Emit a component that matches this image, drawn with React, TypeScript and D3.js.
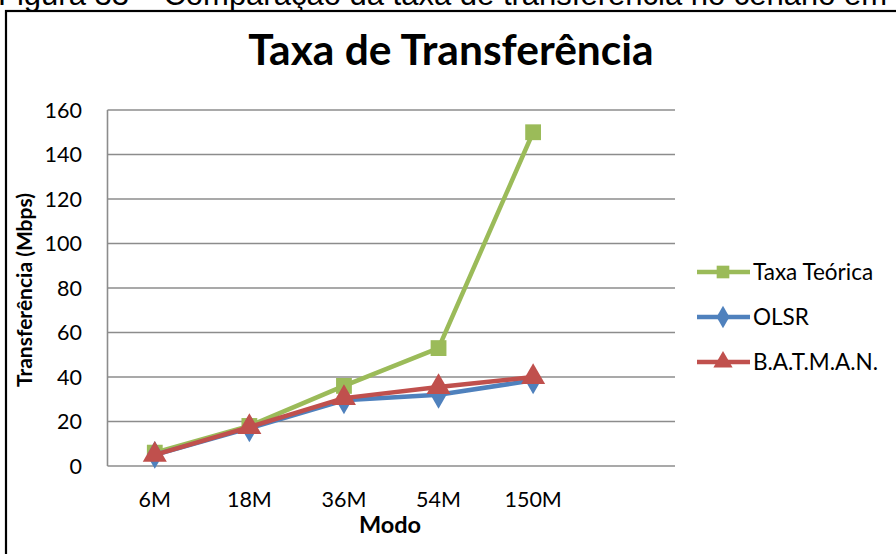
import React, { useEffect, useRef } from 'react';
import * as d3 from 'd3';

// Chart data
const categories = ['6M', '18M', '36M', '54M', '150M'];
const taxaTeorica = [6, 18, 36, 53, 150];
const olsr = [5, 17, 29.5, 32, 38.5];
const batman = [5, 17.5, 30.5, 35.5, 40];
const yTicks = [0, 20, 40, 60, 80, 100, 120, 140, 160];

const series = [
  { name: 'Taxa Teórica', values: taxaTeorica, color: '#9BBB59', marker: 'square' },
  { name: 'OLSR', values: olsr, color: '#4F81BD', marker: 'diamond' },
  { name: 'B.A.T.M.A.N.', values: batman, color: '#C0504D', marker: 'triangle' },
];

const W = 896;
const H = 554;
const plot = { left: 107.5, right: 675, top: 110, bottom: 466 };
const font = 'Lato, "Open Sans", sans-serif';

function App() {
  const ref = useRef<SVGSVGElement>(null);

  useEffect(() => {
    const svg = d3.select(ref.current).html('');

    svg.append('rect').attr('width', W).attr('height', H).attr('fill', '#fff');

    // caption from the page, cut off at the top
    svg.append('text')
      .attr('x', -2)
      .attr('y', 5)
      .attr('font-family', '"Liberation Sans", Arial, sans-serif')
      .attr('font-size', 31)
      .text('Figura 33 – Comparação da taxa de transferência no cenário em');

    // frame
    svg.append('rect')
      .attr('x', 6).attr('y', 11)
      .attr('width', W + 20).attr('height', H + 20)
      .attr('fill', 'none').attr('stroke', '#000').attr('stroke-width', 2.2);

    // the category axis has one empty slot at the end
    const x = d3.scaleBand<string>()
      .domain([...categories, ''])
      .range([plot.left, plot.right]);
    const y = d3.scaleLinear().domain([0, 160]).range([plot.bottom, plot.top]);
    const cx = (c: string) => (x(c) as number) + x.bandwidth() / 2;

    // gridlines
    svg.append('g')
      .selectAll('line')
      .data(yTicks)
      .join('line')
      .attr('x1', plot.left).attr('x2', plot.right)
      .attr('y1', (d) => y(d)).attr('y2', (d) => y(d))
      .attr('stroke', '#8c8c8c').attr('stroke-width', 1.6);

    svg.append('line')
      .attr('x1', plot.left).attr('x2', plot.left)
      .attr('y1', plot.top).attr('y2', plot.bottom)
      .attr('stroke', '#8c8c8c').attr('stroke-width', 1.6);

    // y tick labels
    svg.append('g')
      .selectAll('text')
      .data(yTicks)
      .join('text')
      .attr('x', 82)
      .attr('y', (d) => y(d) + 7.5)
      .attr('text-anchor', 'end')
      .attr('font-family', font)
      .attr('font-size', 21.5)
      .text((d) => d);

    // x tick labels
    svg.append('g')
      .selectAll('text')
      .data(categories)
      .join('text')
      .attr('x', (d) => cx(d))
      .attr('y', 507)
      .attr('text-anchor', 'middle')
      .attr('font-family', font)
      .attr('font-size', 21.5)
      .text((d) => d);

    // title and axis titles
    svg.append('text')
      .attr('x', 451).attr('y', 65)
      .attr('text-anchor', 'middle')
      .attr('font-family', font).attr('font-weight', 'bold')
      .attr('font-size', 42.5)
      .text('Taxa de Transferência');

    svg.append('text')
      .attr('x', 390).attr('y', 533)
      .attr('text-anchor', 'middle')
      .attr('font-family', font).attr('font-weight', 'bold')
      .attr('font-size', 23.5)
      .text('Modo');

    svg.append('text')
      .attr('transform', 'translate(32,290) rotate(-90)')
      .attr('text-anchor', 'middle')
      .attr('font-family', font).attr('font-weight', 'bold')
      .attr('font-size', 21)
      .text('Transferência (Mbps)');

    const symbolFor = (m: string, size: number) => {
      if (m === 'square') return d3.symbol(d3.symbolSquare, size)();
      if (m === 'diamond') return d3.symbol(d3.symbolDiamond, size * 0.9)();
      return d3.symbol(d3.symbolTriangle, size)();
    };

    const line = d3.line<number>()
      .x((_, i) => cx(categories[i]))
      .y((d) => y(d));

    series.forEach((s) => {
      const g = svg.append('g');
      g.append('path')
        .attr('d', line(s.values))
        .attr('fill', 'none')
        .attr('stroke', s.color)
        .attr('stroke-width', 4.5)
        .attr('stroke-linejoin', 'round');
      g.selectAll('path.m')
        .data(s.values)
        .join('path')
        .attr('class', 'm')
        .attr('transform', (d, i) => `translate(${cx(categories[i])},${y(d)})`)
        .attr('d', symbolFor(s.marker, 250))
        .attr('fill', s.color);
    });

    // legend
    const leg = svg.append('g');
    const legY = [272, 317, 362];
    series.forEach((s, i) => {
      const ly = legY[i];
      leg.append('line')
        .attr('x1', 697).attr('x2', 750)
        .attr('y1', ly).attr('y2', ly)
        .attr('stroke', s.color).attr('stroke-width', 4.5);
      leg.append('path')
        .attr('transform', `translate(723,${ly})`)
        .attr('d', symbolFor(s.marker, 160))
        .attr('fill', s.color);
      leg.append('text')
        .attr('x', 753).attr('y', ly + 7.5)
        .attr('font-family', font)
        .attr('font-size', 22.5)
        .text(s.name);
    });
  }, []);

  return (
    <div style={{ position: 'fixed', left: 0, top: 0 }}>
      <svg ref={ref} width={W} height={H} style={{ display: 'block' }} />
    </div>
  );
}

export default App;
